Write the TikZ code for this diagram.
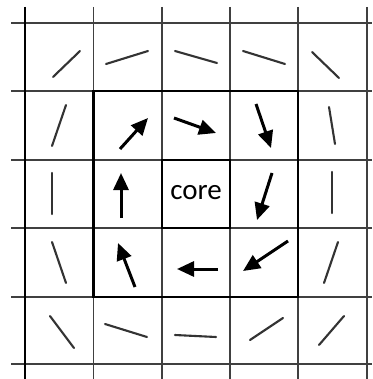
\documentclass[tikz,border=0pt]{standalone}
\usepackage{fontspec}
\newfontfamily\corefont{Carlito}
\usetikzlibrary{arrows.meta}
\tikzset{
  gridline/.style={line width=1.5pt, draw=black!75},
  thickbox/.style={line width=2.6pt, draw=black},
  seg/.style={line width=2.1pt, draw=black!80, line cap=round},
  vec/.style={line width=3pt, draw=black, -{Triangle[length=17pt,width=15pt]}},
}
\begin{document}
\begin{tikzpicture}[x=1pt,y=-1pt]
\useasboundingbox (0,0) rectangle (372,379);
\fill[white] (0,0) rectangle (372,379);
% grid
\foreach \x in {25,93.5,162,230,298,367} \draw[gridline] (\x,7) -- (\x,379);
\foreach \y in {23,91,160,228,297,364} \draw[gridline] (11,\y) -- (372,\y);
\draw[line width=2pt] (25,7) -- (25,379);
% thick boxes
\draw[thickbox] (93.5,91) rectangle (298,297);
\draw[thickbox] (162,160) rectangle (230,228);
\node[font=\corefont\fontsize{29}{30}\selectfont, inner sep=0pt] (core) at (196,193) {core};
% outer ring segments
\draw[seg] (53,77) -- (80,51);
\draw[seg] (106,64) -- (148,51);
\draw[seg] (175,51) -- (217,63);
\draw[seg] (243,51) -- (285,64);
\draw[seg] (312,52) -- (339,78);
\draw[seg] (66,105) -- (52,146);
\draw[seg] (329,107) -- (335,144);
\draw[seg] (52,173) -- (52,214);
\draw[seg] (332,172) -- (332,213);
\draw[seg] (52,242) -- (66,283);
\draw[seg] (338,242) -- (324,283);
\draw[seg] (50,316) -- (74,348);
\draw[seg] (105,324) -- (147,337);
\draw[seg] (175,335) -- (216,337);
\draw[seg] (250,340) -- (283,318);
\draw[seg] (319,345) -- (344,316);
% inner ring arrows
\draw[vec] (120,149) -- (148,118);
\draw[vec] (174,118) -- (216,133);
\draw[vec] (256,104) -- (271,148);
\draw[vec] (121,218) -- (121,173);
\draw[vec] (272,173) -- (257,220);
\draw[vec] (135,287) -- (118,243);
\draw[vec] (218,269) -- (177,269);
\draw[vec] (288,241) -- (243,271);
\end{tikzpicture}
\end{document}
